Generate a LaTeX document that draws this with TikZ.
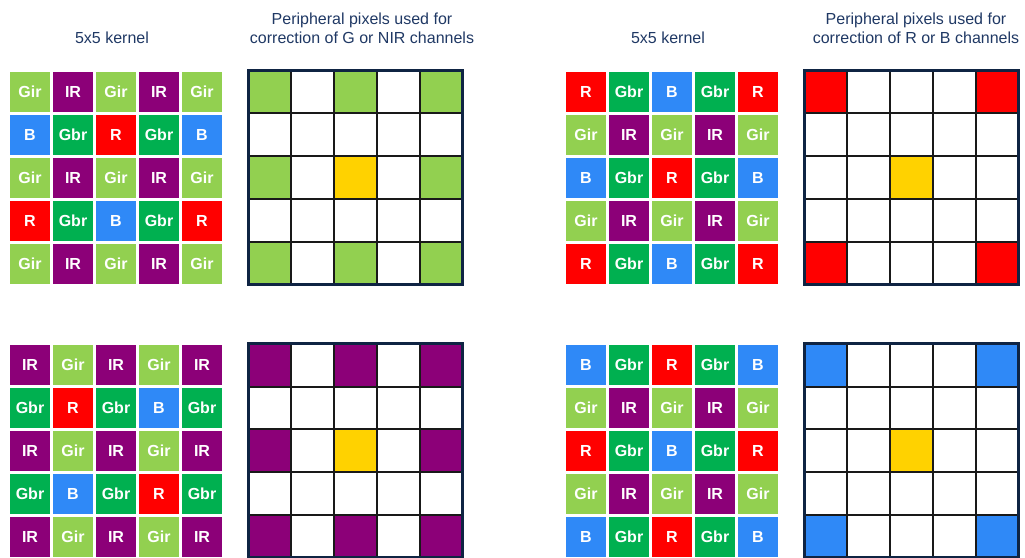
\documentclass[tikz,border=0pt]{standalone}
\usepackage{fontspec}
\setmainfont{Liberation Sans}
\definecolor{cGir}{HTML}{92D050}
\definecolor{cIR}{HTML}{8C0078}
\definecolor{cGbr}{HTML}{00B050}
\definecolor{cR}{HTML}{FF0000}
\definecolor{cB}{HTML}{2F89F7}
\definecolor{cY}{HTML}{FFD200}
\definecolor{navy}{HTML}{1F3864}
\definecolor{frame}{HTML}{0F2443}
\tikzset{
  kcell/.style={minimum size=40pt,inner sep=0pt,text=white,font=\fontsize{16}{19}\selectfont\bfseries},
  mcell/.style={minimum size=42.8pt,inner sep=0pt,outer sep=0pt,draw=black!90,line width=2pt},
  mframe/.style={draw=frame,line width=3pt},
  title/.style={text=navy,font=\fontsize{16}{19}\selectfont,align=center}
}

\begin{document}
\begin{tikzpicture}[x=1pt,y=-1pt]
  \useasboundingbox (0,0) rectangle (1025,557);

  % titles
  \node[title] (t1) at (112,38) {5x5 kernel};
  \node[title] (t2) at (362,28) {Peripheral pixels used for\\correction of G or NIR channels};
  \node[title] (t3) at (668,38) {5x5 kernel};
  \node[title] (t4) at (916,28) {Peripheral pixels used for\\correction of R or B channels};

  % kernel, top left
  \foreach \row [count=\ro] in {
    {Gir,IR,Gir,IR,Gir},{B,Gbr,R,Gbr,B},{Gir,IR,Gir,IR,Gir},
    {R,Gbr,B,Gbr,R},{Gir,IR,Gir,IR,Gir}}{
    \foreach \lab [count=\co] in \row
      \node[kcell,fill=c\lab] (ka-\ro-\co) at ({30+43*(\co-1)},{92+43*(\ro-1)}) {\lab};
  }
  % kernel, bottom left
  \foreach \row [count=\ro] in {
    {IR,Gir,IR,Gir,IR},{Gbr,R,Gbr,B,Gbr},{IR,Gir,IR,Gir,IR},
    {Gbr,B,Gbr,R,Gbr},{IR,Gir,IR,Gir,IR}}{
    \foreach \lab [count=\co] in \row
      \node[kcell,fill=c\lab] (kb-\ro-\co) at ({30+43*(\co-1)},{365+43*(\ro-1)}) {\lab};
  }
  % kernel, top right
  \foreach \row [count=\ro] in {
    {R,Gbr,B,Gbr,R},{Gir,IR,Gir,IR,Gir},{B,Gbr,R,Gbr,B},
    {Gir,IR,Gir,IR,Gir},{R,Gbr,B,Gbr,R}}{
    \foreach \lab [count=\co] in \row
      \node[kcell,fill=c\lab] (kc-\ro-\co) at ({586+43*(\co-1)},{92+43*(\ro-1)}) {\lab};
  }
  % kernel, bottom right
  \foreach \row [count=\ro] in {
    {B,Gbr,R,Gbr,B},{Gir,IR,Gir,IR,Gir},{R,Gbr,B,Gbr,R},
    {Gir,IR,Gir,IR,Gir},{B,Gbr,R,Gbr,B}}{
    \foreach \lab [count=\co] in \row
      \node[kcell,fill=c\lab] (kd-\ro-\co) at ({586+43*(\co-1)},{365+43*(\ro-1)}) {\lab};
  }

  % peripheral masks, G or NIR
  \foreach \row [count=\ro] in {
    {cGir,white,cGir,white,cGir},{white,white,white,white,white},{cGir,white,cY,white,cGir},
    {white,white,white,white,white},{cGir,white,cGir,white,cGir}}{
    \foreach \col [count=\co] in \row
      \node[mcell,fill=\col] (ma-\ro-\co) at ({248.5+42.8*(\co-0.5)},{70.5+42.8*(\ro-0.5)}) {};
  }
  \draw[mframe] (ma-1-1.north west) rectangle (ma-5-5.south east);
  \foreach \row [count=\ro] in {
    {cIR,white,cIR,white,cIR},{white,white,white,white,white},{cIR,white,cY,white,cIR},
    {white,white,white,white,white},{cIR,white,cIR,white,cIR}}{
    \foreach \col [count=\co] in \row
      \node[mcell,fill=\col] (mb-\ro-\co) at ({248.5+42.8*(\co-0.5)},{343.8+42.8*(\ro-0.5)}) {};
  }
  \draw[mframe] (mb-1-1.north west) rectangle (mb-5-5.south east);

  % peripheral masks, R or B
  \foreach \row [count=\ro] in {
    {cR,white,white,white,cR},{white,white,white,white,white},{white,white,cY,white,white},
    {white,white,white,white,white},{cR,white,white,white,cR}}{
    \foreach \col [count=\co] in \row
      \node[mcell,fill=\col] (mc-\ro-\co) at ({804.5+42.8*(\co-0.5)},{70.5+42.8*(\ro-0.5)}) {};
  }
  \draw[mframe] (mc-1-1.north west) rectangle (mc-5-5.south east);
  \foreach \row [count=\ro] in {
    {cB,white,white,white,cB},{white,white,white,white,white},{white,white,cY,white,white},
    {white,white,white,white,white},{cB,white,white,white,cB}}{
    \foreach \col [count=\co] in \row
      \node[mcell,fill=\col] (md-\ro-\co) at ({804.5+42.8*(\co-0.5)},{343.8+42.8*(\ro-0.5)}) {};
  }
  \draw[mframe] (md-1-1.north west) rectangle (md-5-5.south east);
\end{tikzpicture}
\end{document}
